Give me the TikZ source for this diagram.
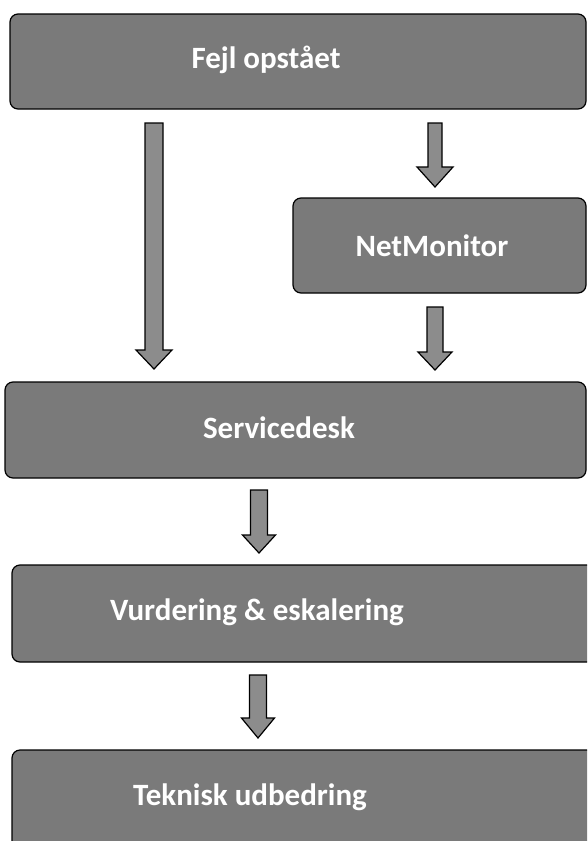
\documentclass[tikz,border=0pt]{standalone}
\usepackage{fontspec}
\setmainfont{Carlito}
\begin{document}
\begin{tikzpicture}[x=1pt,y=-1pt,
  box/.style={draw=black, line width=1.2pt, fill=black!52, rounded corners=8pt},
  lbl/.style={text=white, font=\bfseries\fontsize{31}{33}\selectfont, inner sep=0pt},
  fat/.style={draw=black, line width=1.2pt, fill=black!45, line join=miter}]
\useasboundingbox (0,0) rectangle (587,841);
\clip (0,0) rectangle (587,841);
% boxes
\draw[box] (10,14) rectangle (586,109);
\node[lbl] (fejl) at (266,60) {Fejl opstået};
\draw[box] (293,198) rectangle (586,293);
\node[lbl] (net) at (432,246) {NetMonitor};
\draw[box] (5,382) rectangle (586,478);
\node[lbl] (svc) at (279,428) {Servicedesk};
\draw[box] (12,565) rectangle (598,662);
\node[lbl] (vur) at (257,612) {Vurdering \& eskalering};
\draw[box] (12,750) rectangle (598,860);
\node[lbl] (tek) at (250,797) {Teknisk udbedring};
% fat arrows: \fatarrow{cx}{top}{headstart}{tip}{half shaft}{half head}
\newcommand{\fatarrow}[6]{%
  \draw[fat] (#1-#5,#2) -- (#1+#5,#2) -- (#1+#5,#3) -- (#1+#6,#3) -- (#1,#4)
    -- (#1-#6,#3) -- (#1-#5,#3) -- cycle;}
\fatarrow{154}{123}{350}{369}{9}{18}
\fatarrow{435}{123}{167}{187}{7}{18}
\fatarrow{435}{307}{352}{370}{8}{17}
\fatarrow{259}{490}{535}{553}{8.5}{16.5}
\fatarrow{258}{675}{718}{738}{8.5}{16.5}
\end{tikzpicture}
\end{document}
